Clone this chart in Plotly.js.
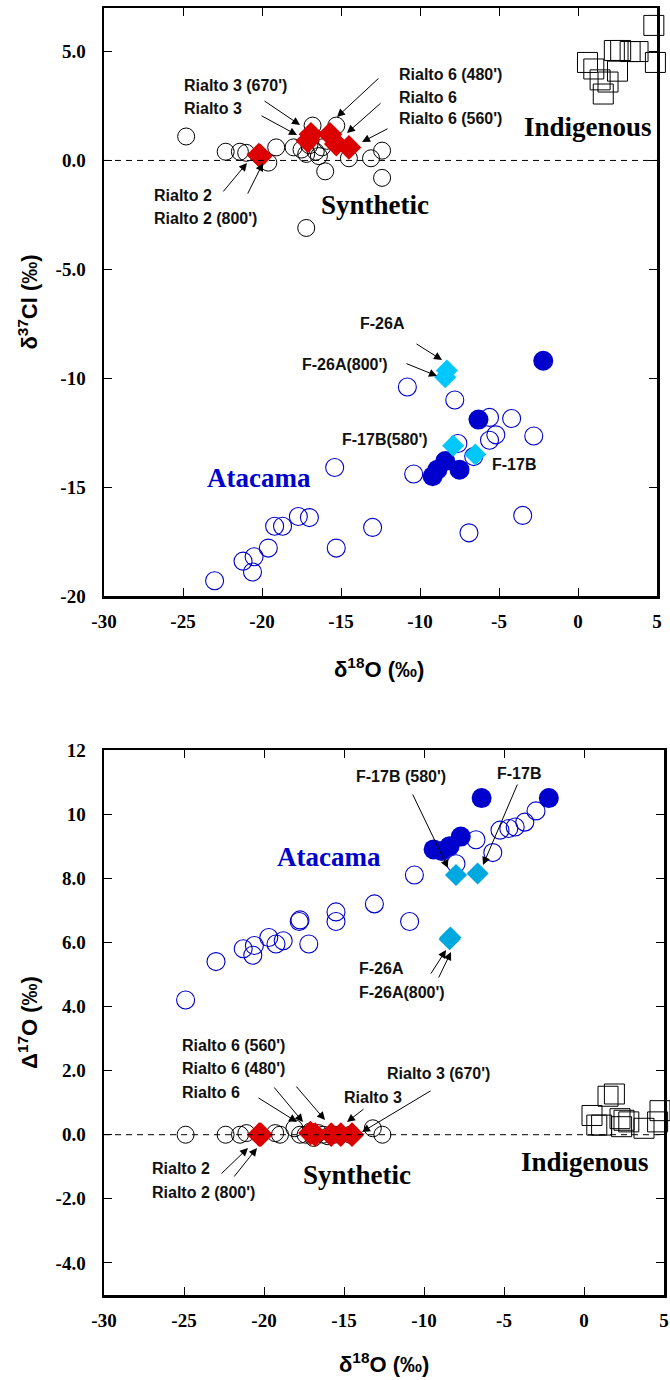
<!DOCTYPE html>
<html><head><meta charset="utf-8">
<script src="https://cdn.plot.ly/plotly-3.0.1.min.js"></script>
<style>body{margin:0;background:#fff}#g{width:670px;height:1380px}</style>
</head><body><div id="g"></div>
<script>
// ---- Top panel: d18O vs d37Cl ----
const synX1 = [-24.8, -22.3, -21.4, -21.0, -19.6, -19.1, -18.0, -17.5, -17.2, -17.0, -16.8, -16.6, -16.4, -16.2, -16.0, -15.9, -15.3, -14.5, -13.1, -12.4, -12.4, -17.2];
const synY1 = [1.1, 0.4, 0.4, 0.35, -0.1, 0.6, 0.6, 0.5, 0.3, 0.7, 1.6, 0.4, 0.2, 0.6, -0.5, 0.9, 1.6, 0.1, 0.1, 0.45, -0.8, -3.1];
const indX1 = [4.8, 2.7, 2.3, 3.3, 3.8, 4.9, 0.6, 1.0, 2.5, 1.4, 1.9, 1.6];
const indY1 = [6.2, 5.05, 5.05, 5.0, 5.0, 4.5, 4.5, 4.2, 4.1, 3.7, 3.6, 3.05];
const ataOpenX1 = [-23.0, -21.2, -20.5, -20.6, -19.6, -19.2, -18.7, -17.7, -17.0, -15.4, -15.3, -13.0, -10.8, -7.8, -5.6, -4.2, -5.2, -5.6, -2.8, -7.6, -6.6, -10.4, -3.5, -6.9];
const ataOpenY1 = [-19.3, -18.4, -18.2, -18.9, -17.8, -16.8, -16.8, -16.35, -16.4, -14.1, -17.8, -16.85, -10.4, -11.0, -11.8, -11.85, -12.6, -12.85, -12.65, -13.0, -13.6, -14.4, -16.3, -17.1];
const ataFillX1 = [-9.2, -8.9, -8.4, -7.5, -6.3, -2.2];
const ataFillY1 = [-14.5, -14.2, -13.8, -14.2, -11.9, -9.2];
const wellX1 = [-8.3, -8.4, -7.9, -6.5];
const wellY1 = [-9.65, -9.95, -13.1, -13.5];
const rialtoX1 = [-20.2, -20.1, -17.1, -16.9, -15.3, -15.7, -14.5];
const rialtoY1 = [0.25, 0.2, 0.9, 1.2, 0.75, 1.2, 0.6];

// ---- Bottom panel: d18O vs D17O ----
const synX2 = [-24.9, -22.4, -21.5, -21.1, -19.3, -19.0, -18.1, -17.75, -17.4, -17.1, -16.9, -16.6, -16.3, -16.0, -15.6, -14.6, -13.2, -12.6];
const synY2 = [0.0, 0.0, 0.0, 0.05, 0.05, 0.0, 0.2, 0.0, 0.0, 0.1, -0.1, 0.05, 0.0, -0.05, 0.0, 0.0, 0.2, 0.0];
const indX2 = [1.9, 1.5, 0.5, 0.8, 1.1, 2.25, 2.5, 2.8, 3.75, 4.75, 4.6, 2.35];
const indY2 = [1.27, 1.2, 0.6, 0.3, 0.3, 0.5, 0.45, 0.4, 0.2, 0.75, 0.4, 0.25];
const ataOpenX2 = [-24.9, -23.0, -21.3, -20.6, -20.7, -19.7, -19.25, -18.8, -17.8, -17.75, -17.2, -15.5, -15.5, -13.1, -10.9, -10.6, -8.0, -6.75, -5.7, -5.25, -4.7, -4.3, -3.7, -3.0];
const ataOpenY2 = [4.2, 5.4, 5.8, 5.9, 5.6, 6.15, 5.95, 6.05, 6.65, 6.7, 5.95, 6.95, 6.65, 7.2, 6.65, 8.1, 8.45, 9.2, 8.8, 9.5, 9.55, 9.6, 9.75, 10.1];
const ataFillX2 = [-9.4, -8.9, -8.4, -7.7, -6.4, -2.2];
const ataFillY2 = [8.9, 8.85, 9.0, 9.3, 10.5, 10.5];
const wellX2 = [-8.0, -6.65, -8.4, -8.35];
const wellY2 = [8.1, 8.15, 6.1, 6.15];
const rialtoX2 = [-20.3, -20.2, -17.1, -16.8, -15.8, -15.2, -14.5];
const rialtoY2 = [0, 0, 0.05, 0, 0, 0, 0];

const xTickVals = [-30, -25, -20, -15, -10, -5, 0, 5];
const xTickText = ['-30', '-25', '-20', '-15', '-10', '-5', '0', '5'];
const y1TickVals = [5, 0, -5, -10, -15, -20];
const y1TickText = ['5.0', '0.0', '-5.0', '-10', '-15', '-20'];
const y2TickVals = [12, 10, 8, 6, 4, 2, 0, -2, -4];
const y2TickText = ['12', '10', '8.0', '6.0', '4.0', '2.0', '0.0', '-2.0', '-4.0'];

const BLUE = '#0000CC', RED = '#DD0000', CYAN1 = '#00C8FF', CYAN2 = '#00A8E0';

function sc(x, y, xa, ya, sym, size, color, lw, clip) {
  return {x: x, y: y, xaxis: xa, yaxis: ya, type: 'scatter', mode: 'markers', hoverinfo: 'skip', cliponaxis: clip !== false,
    marker: {symbol: sym, size: size, color: color, line: {width: lw, color: color}}};
}
const data = [
  sc(synX1, synY1, 'x', 'y', 'circle-open', 17, '#000', 1),
  sc(indX1, indY1, 'x', 'y', 'square-open', 20, '#000', 1, false),
  sc(ataOpenX1, ataOpenY1, 'x', 'y', 'circle-open', 18, BLUE, 1.1),
  sc(ataFillX1, ataFillY1, 'x', 'y', 'circle', 20, BLUE, 0),
  sc(wellX1, wellY1, 'x', 'y', 'diamond', 17, CYAN1, 0),
  sc(rialtoX1, rialtoY1, 'x', 'y', 'diamond', 19, RED, 0),
  sc(synX2, synY2, 'x2', 'y2', 'circle-open', 17, '#000', 1),
  sc(indX2, indY2, 'x2', 'y2', 'square-open', 20, '#000', 1, false),
  sc(ataOpenX2, ataOpenY2, 'x2', 'y2', 'circle-open', 18, BLUE, 1.1),
  sc(ataFillX2, ataFillY2, 'x2', 'y2', 'circle', 20, BLUE, 0),
  sc(wellX2, wellY2, 'x2', 'y2', 'diamond', 17, CYAN2, 0),
  sc(rialtoX2, rialtoY2, 'x2', 'y2', 'diamond', 19, RED, 0)
];

// pixel -> paper helpers for annotation placement
const L = 104, W = 560, B = 1295, H = 1287;
const px = v => (v - L) / W, py = v => (B - v) / H;
const LBL = {family: 'Liberation Sans, Arial, sans-serif', size: 16, color: '#111', weight: 'bold'};
const SER = (c) => ({family: 'Liberation Serif, Times New Roman, serif', size: 27, color: c, weight: 'bold'});
const TITF = {family: 'Liberation Sans, Arial, sans-serif', size: 22, color: '#000', weight: 'bold'};
const ann = [];
function lab(t, x, y, anchor, font) {
  ann.push({text: t, xref: 'paper', yref: 'paper', x: px(x), y: py(y), xanchor: anchor || 'left', yanchor: 'middle', showarrow: false, font: font || LBL});
}
function arr(tx, ty, hx, hy) {
  ann.push({text: '', xref: 'paper', yref: 'paper', x: px(hx), y: py(hy), ax: tx - hx, ay: ty - hy, showarrow: true,
    arrowhead: 2, arrowsize: 1.6, arrowwidth: 1, arrowcolor: '#000', standoff: 0});
}
// x titles
lab('δ<sup>18</sup>O (‰)', 379, 668, 'center', TITF);
lab('δ<sup>18</sup>O (‰)', 384, 1363, 'center', TITF);
// top panel labels
lab("Rialto 3 (670')", 182, 86); lab('Rialto 3', 182, 108);
lab("Rialto 6 (480')", 397, 75); lab('Rialto 6', 397, 97); lab("Rialto 6 (560')", 397, 119);
lab('Rialto 2', 152, 195); lab("Rialto 2 (800')", 152, 218);
lab('Synthetic', 375, 205, 'center', SER('#000'));
lab('Indigenous', 588, 127, 'center', SER('#000'));
lab('F-26A', 358, 324); lab("F-26A(800')", 300, 364);
lab("F-17B(580')", 340, 440); lab('F-17B', 490, 464);
lab('Atacama', 259, 478, 'center', SER(BLUE));
arr(263, 100, 300, 125); arr(260, 115, 297, 135);
arr(380, 77, 337, 117); arr(382, 102, 347, 133); arr(389, 128, 362, 142);
arr(222, 193, 247, 163); arr(247, 195, 263, 163);
arr(415, 343, 442, 360); arr(405, 363, 437, 376);
// bottom panel labels
lab("F-17B (580')", 354, 777); lab('F-17B', 495, 773);
lab('Atacama', 329, 857, 'center', SER(BLUE));
lab('F-26A', 357, 968); lab("F-26A(800')", 357, 992);
lab("Rialto 6 (560')", 180, 1045); lab("Rialto 6 (480')", 180, 1068); lab('Rialto 6', 180, 1092);
lab('Rialto 3', 342, 1097); lab("Rialto 3 (670')", 385, 1073);
lab('Rialto 2', 150, 1168); lab("Rialto 2 (800')", 150, 1192);
lab('Synthetic', 357, 1175, 'center', SER('#000'));
lab('Indigenous', 585, 1162, 'center', SER('#000'));
arr(412, 793, 448, 868); arr(518, 783, 483, 865);
arr(430, 975, 446, 950); arr(438, 979, 451, 952);
arr(257, 1097, 297, 1122); arr(273, 1086, 303, 1122); arr(295, 1085, 325, 1120);
arr(365, 1108, 347, 1122); arr(432, 1090, 362, 1132);
arr(220, 1175, 248, 1148); arr(233, 1178, 257, 1148);

const TICKF = {family: 'Liberation Serif, Times New Roman, serif', size: 19, color: '#000', weight: 'bold'};
const bold = a => a.map(s => '<b>' + s + '</b>');
function xax(dom, anchor) {
  return {domain: dom, anchor: anchor, range: [-30, 5], tickvals: xTickVals, ticktext: bold(xTickText), ticks: 'inside', ticklen: 8, tickwidth: 1,
    tickcolor: '#000', showline: true, linewidth: 2.5, linecolor: '#000', mirror: 'allticks', showgrid: false, zeroline: false,
    tickfont: TICKF, ticklabelstandoff: 7, title: {text: ''}};
}
function yax(dom, anchor, rng, tv, tt, title) {
  return {domain: dom, anchor: anchor, range: rng, tickvals: tv, ticktext: bold(tt), ticks: 'inside', ticklen: 8, tickwidth: 1,
    tickcolor: '#000', showline: true, linewidth: 2.5, linecolor: '#000', mirror: 'allticks', showgrid: false, zeroline: false,
    tickfont: TICKF, ticklabelstandoff: 12,
    title: {text: title, font: TITF, standoff: 12}};
}
const layout = {
  width: 670, height: 1380, margin: {l: L, r: 670 - L - W, t: 8, b: 1380 - B},
  paper_bgcolor: '#fff', plot_bgcolor: '#fff', showlegend: false,
  xaxis: xax([0, (657 - L) / W], 'y'),
  yaxis: yax([(B - 596) / H, 1], 'x', [-20, 7], y1TickVals, y1TickText, 'δ<sup>37</sup>Cl (‰)'),
  xaxis2: xax([0, 1], 'y2'),
  yaxis2: yax([0, (B - 750) / H], 'x2', [-5, 12], y2TickVals, y2TickText, 'Δ<sup>17</sup>O (‰)'),
  shapes: [
    {type: 'line', xref: 'x', yref: 'y', x0: -30, x1: 5, y0: 0, y1: 0, line: {color: '#000', width: 1, dash: '6px,5px'}},
    {type: 'line', xref: 'x2', yref: 'y2', x0: -30, x1: 5, y0: 0, y1: 0, line: {color: '#000', width: 1, dash: '6px,5px'}}
  ],
  annotations: ann
};
Plotly.newPlot('g', data, layout, {staticPlot: true});
</script></body></html>
